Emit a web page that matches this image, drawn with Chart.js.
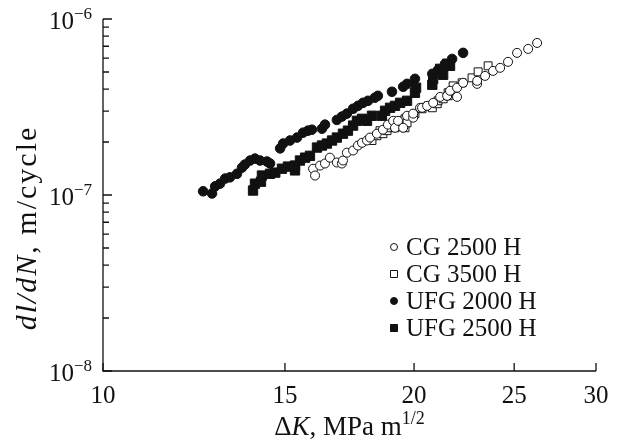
<!DOCTYPE html>
<html>
<head>
<meta charset="utf-8">
<script src="https://cdn.jsdelivr.net/npm/chart.js@4.4.0/dist/chart.umd.min.js"></script>
<style>
  body { margin: 0; background: #fff; }
</style>
</head>
<body>
<canvas id="crackChart" width="617" height="441"></canvas>
<script>
// ΔK in MPa m^1/2, dl/dN in units of 1e-7 m/cycle
const cg2500K = [15.97, 16.04, 16.22, 16.40, 16.58, 16.84, 17.03, 17.07, 17.22, 17.46, 17.65, 17.81, 18.01, 18.13, 18.41, 18.66, 18.87, 19.09, 19.17, 19.30, 19.52, 19.69, 19.96, 19.96, 20.27, 20.36, 20.59, 20.87, 21.20, 21.53, 21.67, 22.01, 22.01, 22.31, 23.02, 23.02, 23.43, 23.85, 24.23, 24.66, 25.16, 25.79, 26.31];
const cg2500Rate = [1.41, 1.29, 1.47, 1.51, 1.63, 1.53, 1.51, 1.57, 1.74, 1.79, 1.91, 1.98, 2.04, 2.12, 2.23, 2.35, 2.51, 2.64, 2.41, 2.64, 2.41, 2.82, 2.75, 2.90, 3.13, 3.13, 3.21, 3.34, 3.61, 3.66, 3.91, 3.61, 4.07, 4.34, 4.28, 4.45, 4.75, 5.07, 5.28, 5.71, 6.42, 6.76, 7.31];

const cg3500K = [18.21, 18.41, 18.54, 18.66, 18.83, 18.87, 19.09, 19.17, 19.39, 19.60, 19.60, 19.69, 20.04, 20.36, 20.64, 20.83, 21.06, 21.10, 21.34, 21.58, 21.58, 21.82, 22.26, 22.76, 23.07, 23.59];
const cg3500Rate = [2.04, 2.17, 2.32, 2.23, 2.32, 2.41, 2.57, 2.41, 2.64, 2.41, 2.71, 2.57, 2.90, 3.09, 3.21, 3.13, 3.30, 3.43, 3.52, 3.66, 3.81, 4.17, 4.34, 4.63, 5.01, 5.42];

const ufg2000K = [12.50, 12.75, 12.84, 12.98, 13.13, 13.27, 13.48, 13.63, 13.72, 13.88, 14.03, 14.19, 14.41, 14.51, 14.84, 14.94, 15.17, 15.41, 15.62, 15.79, 15.93, 16.29, 16.40, 16.84, 17.03, 17.22, 17.46, 17.65, 17.85, 18.05, 18.33, 18.45, 19.04, 19.52, 19.69, 20.04, 20.83, 21.10, 21.43, 21.77, 22.31];
const ufg2000Rate = [1.05, 1.02, 1.12, 1.16, 1.24, 1.26, 1.32, 1.43, 1.49, 1.57, 1.61, 1.57, 1.55, 1.51, 1.84, 1.96, 2.04, 2.12, 2.26, 2.32, 2.35, 2.38, 2.51, 2.67, 2.79, 2.90, 3.09, 3.21, 3.34, 3.43, 3.57, 3.66, 3.86, 4.12, 4.28, 4.57, 4.88, 5.14, 5.56, 5.93, 6.42];

const ufg2500K = [13.97, 14.03, 14.22, 14.25, 14.51, 14.68, 14.90, 15.10, 15.34, 15.34, 15.51, 15.69, 15.86, 16.11, 16.29, 16.47, 16.66, 16.84, 17.07, 17.26, 17.46, 17.61, 17.81, 18.01, 18.21, 18.62, 18.75, 18.96, 19.17, 19.39, 19.69, 20.04, 20.09, 20.83, 20.87, 21.20, 21.34, 21.53, 21.67];
const ufg2500Rate = [1.06, 1.16, 1.19, 1.29, 1.32, 1.34, 1.41, 1.45, 1.38, 1.47, 1.57, 1.63, 1.67, 1.86, 1.91, 1.96, 2.04, 2.12, 2.23, 2.32, 2.48, 2.64, 2.71, 2.64, 2.82, 2.82, 3.01, 3.13, 3.21, 3.34, 3.43, 3.81, 4.07, 4.23, 4.57, 5.21, 4.82, 5.56, 5.42];

const seriesNames = ["CG 2500 H", "CG 3500 H", "UFG 2000 H", "UFG 2500 H"];
const xTicks = [10, 15, 20, 25, 30];
const yExponents = [-8, -7, -6];
const yMinorSteps = [2, 3, 4, 5, 6, 7, 8, 9];

const SERIF = '"Liberation Serif", "Times New Roman", serif';
const INK = "#111";

function toPoints(ks, rates) {
    return ks.map((k, i) => ({ x: k, y: rates[i] * 1e-7 }));
}

// draw a run of text pieces with different fonts, starting at x
function drawRich(ctx, parts, x, y, align) {
    let total = 0;
    parts.forEach(p => { ctx.font = p.font; total += ctx.measureText(p.t).width; });
    let cx = align === "center" ? x - total / 2 : align === "right" ? x - total : x;
    ctx.textAlign = "left";
    parts.forEach(p => {
        ctx.font = p.font;
        ctx.fillText(p.t, cx, y + (p.dy || 0));
        cx += ctx.measureText(p.t).width;
    });
}

const markerStyles = [
    { style: "circle", r: 4.5, fill: "#fff" },
    { style: "rect", r: 5.6, fill: "#fff" },
    { style: "circle", r: 4.8, fill: INK },
    { style: "rect", r: 6.6, fill: INK }
];

const frame = {
    id: "frame",
    afterDraw(chart) {
        const { ctx, chartArea: a, scales } = chart;
        const x = scales.x, y = scales.y;
        ctx.save();
        ctx.strokeStyle = INK;
        ctx.fillStyle = INK;
        ctx.lineWidth = 1.3;

        ctx.beginPath();
        ctx.moveTo(a.left, a.top);
        ctx.lineTo(a.left, a.bottom);
        ctx.lineTo(a.right, a.bottom);
        ctx.stroke();

        // inward ticks
        ctx.beginPath();
        xTicks.forEach(v => {
            const px = x.getPixelForValue(v);
            ctx.moveTo(px, a.bottom);
            ctx.lineTo(px, a.bottom - 8);
        });
        yExponents.forEach((e, i) => {
            const py = y.getPixelForValue(Math.pow(10, e));
            ctx.moveTo(a.left, py);
            ctx.lineTo(a.left + 9, py);
            if (i < yExponents.length - 1) {
                yMinorSteps.forEach(m => {
                    const pm = y.getPixelForValue(m * Math.pow(10, e));
                    ctx.moveTo(a.left, pm);
                    ctx.lineTo(a.left + 6, pm);
                });
            }
        });
        ctx.stroke();

        // tick labels
        ctx.textBaseline = "alphabetic";
        ctx.font = "25px " + SERIF;
        ctx.textAlign = "center";
        xTicks.forEach(v => ctx.fillText(String(v), x.getPixelForValue(v), a.bottom + 32));
        yExponents.forEach(e => {
            const py = y.getPixelForValue(Math.pow(10, e));
            drawRich(ctx, [
                { t: "10", font: "25px " + SERIF, dy: 10 },
                { t: "\u2212" + Math.abs(e), font: "17px " + SERIF, dy: 0 }
            ], a.left - 11, py, "right");
        });

        // axis titles
        drawRich(ctx, [
            { t: "\u0394", font: "27px " + SERIF },
            { t: "K", font: "italic 27px " + SERIF },
            { t: ", MPa m", font: "27px " + SERIF },
            { t: "1/2", font: "18px " + SERIF, dy: -11 }
        ], (a.left + a.right) / 2, 435, "center");

        ctx.save();
        ctx.translate(36, 228);
        ctx.rotate(-Math.PI / 2);
        ctx.letterSpacing = "2px";
        drawRich(ctx, [
            { t: "dl/dN", font: "italic 30px " + SERIF },
            { t: ", m/cycle", font: "30px " + SERIF }
        ], 0, 0, "center");
        ctx.restore();

        // legend
        const rowY = [247, 274, 301, 328];
        seriesNames.forEach((name, i) => {
            const m = markerStyles[i];
            const cy = rowY[i];
            const mx = 394;
            ctx.lineWidth = 1;
            ctx.fillStyle = m.fill;
            ctx.beginPath();
            if (m.style === "circle") ctx.arc(mx, cy, 3.5, 0, Math.PI * 2);
            else ctx.rect(mx - 3.5, cy - 3.5, 7, 7);
            ctx.fill();
            ctx.stroke();
            ctx.fillStyle = INK;
            ctx.font = "25px " + SERIF;
            ctx.textAlign = "left";
            ctx.fillText(name, 406, cy + 8);
        });
        ctx.restore();
    }
};

const pointSets = [
    toPoints(cg2500K, cg2500Rate),
    toPoints(cg3500K, cg3500Rate),
    toPoints(ufg2000K, ufg2000Rate),
    toPoints(ufg2500K, ufg2500Rate)
];

new Chart(document.getElementById("crackChart").getContext("2d"), {
    type: "scatter",
    data: {
        datasets: seriesNames.map((name, i) => ({
            label: name,
            data: pointSets[i],
            pointStyle: markerStyles[i].style,
            pointRadius: markerStyles[i].r,
            pointBackgroundColor: markerStyles[i].fill,
            pointBorderColor: INK,
            pointBorderWidth: 1,
            showLine: false
        }))
    },
    options: {
        responsive: false,
        animation: false,
        events: [],
        layout: { padding: { left: 0, right: 21, top: 19, bottom: 0 } },
        plugins: {
            legend: { display: false },
            tooltip: { enabled: false }
        },
        scales: {
            x: {
                type: "logarithmic",
                min: 10,
                max: 30,
                grid: { display: false },
                border: { display: false },
                ticks: { display: false },
                afterFit: s => { s.height = 70; }
            },
            y: {
                type: "logarithmic",
                min: 1e-8,
                max: 1e-6,
                grid: { display: false },
                border: { display: false },
                ticks: { display: false },
                afterFit: s => { s.width = 103; }
            }
        }
    },
    plugins: [frame]
});
</script>
</body>
</html>
